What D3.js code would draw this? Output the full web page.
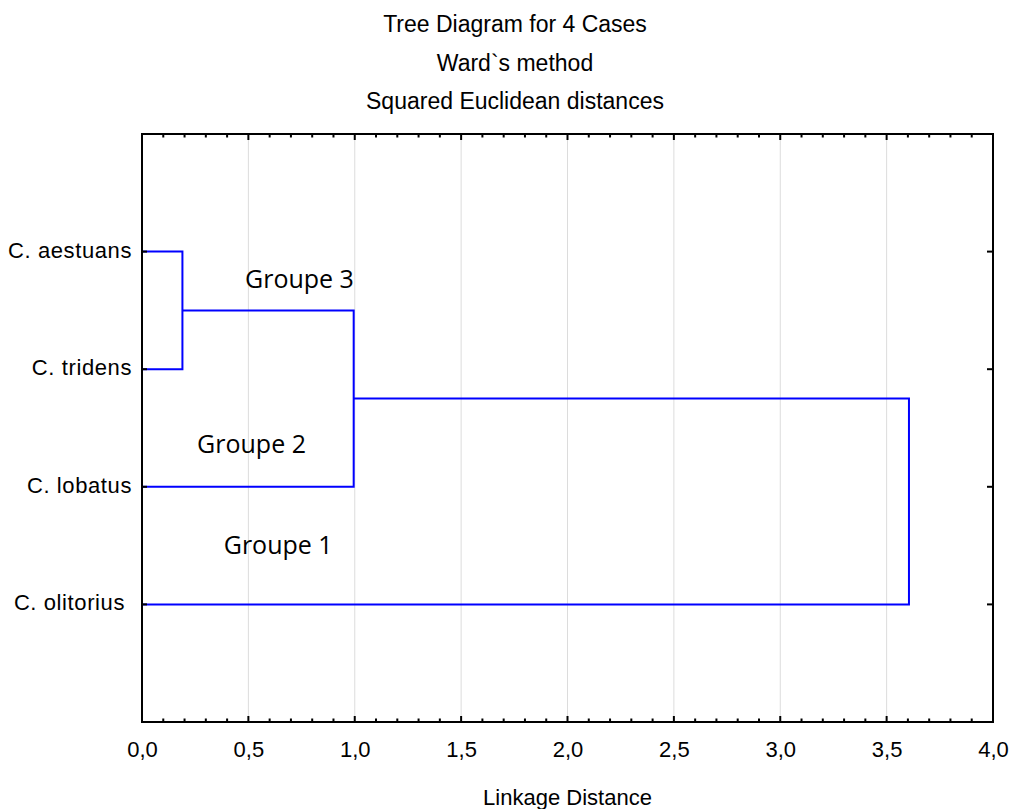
<!DOCTYPE html>
<html>
<head>
<meta charset="utf-8">
<script src="https://cdn.jsdelivr.net/npm/d3@7"></script>
<style>
  body { margin: 0; background: #fff; }
  text { font-family: "Liberation Sans", Arial, sans-serif; }
</style>
</head>
<body>
<script>
var canvasWidth = 1011;
var canvasHeight = 809;
var margin = { top: 134, right: 18, bottom: 87, left: 142 };

// data
var titles = ["Tree Diagram for 4 Cases", "Ward`s method", "Squared Euclidean distances"];
var cases = ["C. aestuans", "C. tridens", "C. lobatus", "C. olitorius"];
// each merge joins two nodes (leaf names or earlier merge ids) at a linkage distance
var mergeIds = ["m1", "m2", "m3"];
var mergeLeft = ["C. aestuans", "m1", "m2"];
var mergeRight = ["C. tridens", "C. lobatus", "C. olitorius"];
var mergeDist = [0.19, 0.995, 3.605];
var groupNames = ["Groupe 3", "Groupe 2", "Groupe 1"];
var groupX = [0.74, 0.515, 0.64];
var groupY = [1.31, 2.71, 3.57];
var xTicks = [0, 0.5, 1, 1.5, 2, 2.5, 3, 3.5, 4];

var svg = d3.select("body").append("svg")
    .attr("width", canvasWidth)
    .attr("height", canvasHeight);

var width = canvasWidth - margin.left - margin.right;
var height = canvasHeight - margin.top - margin.bottom;

var xScale = d3.scaleLinear().domain([0, 4]).range([0, width]);
var yScale = d3.scaleLinear().domain([0, 5]).range([0, height]);

// titles
var titleY = [32, 70.5, 108.5];
svg.selectAll(".title").data(titles)
    .enter().append("text")
    .attr("class", "title")
    .attr("x", 515)
    .attr("y", (d, i) => titleY[i])
    .attr("text-anchor", "middle")
    .attr("font-size", "23px")
    .text(d => d);

var g = svg.append("g")
    .attr("transform", "translate(" + margin.left + ", " + margin.top + ")");

// grid lines
g.selectAll(".grid").data(xTicks.slice(1, -1))
    .enter().append("line")
    .attr("x1", d => xScale(d)).attr("x2", d => xScale(d))
    .attr("y1", 0).attr("y2", height)
    .attr("stroke", "#dcdcdc")
    .attr("stroke-width", 1);

// node positions
var pos = {};
cases.forEach((c, i) => { pos[c] = { x: 0, y: i + 1 }; });

var segs = [];
mergeIds.forEach((id, i) => {
    var a = pos[mergeLeft[i]], b = pos[mergeRight[i]], d = mergeDist[i];
    segs.push([[a.x, a.y], [d, a.y], [d, b.y], [b.x, b.y]]);
    pos[id] = { x: d, y: (a.y + b.y) / 2 };
});

var line = d3.line().x(p => xScale(p[0])).y(p => yScale(p[1]));

g.selectAll(".link").data(segs)
    .enter().append("path")
    .attr("d", line)
    .attr("fill", "none")
    .attr("stroke", "#0000ff")
    .attr("stroke-width", 2);

// group labels
g.selectAll(".grp").data(groupNames)
    .enter().append("text")
    .attr("x", (d, i) => xScale(groupX[i]))
    .attr("y", (d, i) => yScale(groupY[i]))
    .attr("text-anchor", "middle")
    .style("font-family", "'Open Sans', 'Noto Sans', sans-serif")
    .attr("font-size", "25px")
    .text(d => d);

// frame
g.append("rect")
    .attr("width", width).attr("height", height)
    .attr("fill", "none")
    .attr("stroke", "#000")
    .attr("stroke-width", 2);

// x axis ticks (inward, top and bottom) with minor ticks
var minor = d3.range(0, 41).map(i => i / 10);
minor.forEach(v => {
    var major = Math.abs(v * 2 - Math.round(v * 2)) < 1e-6;
    var len = major ? 6 : 3.5;
    g.append("line")
        .attr("x1", xScale(v)).attr("x2", xScale(v))
        .attr("y1", height).attr("y2", height - len)
        .attr("stroke", "#000").attr("stroke-width", 2);
    g.append("line")
        .attr("x1", xScale(v)).attr("x2", xScale(v))
        .attr("y1", 0).attr("y2", len)
        .attr("stroke", "#000").attr("stroke-width", 2);
});

g.append("g")
    .attr("transform", "translate(0, " + height + ")")
    .call(d3.axisBottom(xScale).tickValues(xTicks).tickSize(0).tickPadding(0)
        .tickFormat(d => d3.format(".1f")(d).replace(".", ",")))
    .call(a => a.select(".domain").remove())
    .selectAll("text")
    .attr("dy", null)
    .attr("y", 35)
    .attr("font-size", "22px");

// y axis ticks (left and right, inward)
g.selectAll(".ytl").data(cases)
    .enter().append("line")
    .attr("x1", 0).attr("x2", 5)
    .attr("y1", (d, i) => yScale(i + 1)).attr("y2", (d, i) => yScale(i + 1))
    .attr("stroke", "#000").attr("stroke-width", 2);
g.selectAll(".ytr").data(cases)
    .enter().append("line")
    .attr("x1", width).attr("x2", width - 6)
    .attr("y1", (d, i) => yScale(i + 1)).attr("y2", (d, i) => yScale(i + 1))
    .attr("stroke", "#000").attr("stroke-width", 2);

g.selectAll(".ylab").data(cases)
    .enter().append("text")
    .attr("x", (d, i) => i == 3 ? -17 : -10)
    .attr("y", (d, i) => yScale(i + 1) + 6)
    .attr("text-anchor", "end")
    .attr("font-size", "22px")
    .attr("letter-spacing", "0.6px")
    .text(d => d);

// x axis title
svg.append("text")
    .attr("x", margin.left + width / 2)
    .attr("y", 805)
    .attr("text-anchor", "middle")
    .attr("font-size", "22px")
    .text("Linkage Distance");
</script>
</body>
</html>
